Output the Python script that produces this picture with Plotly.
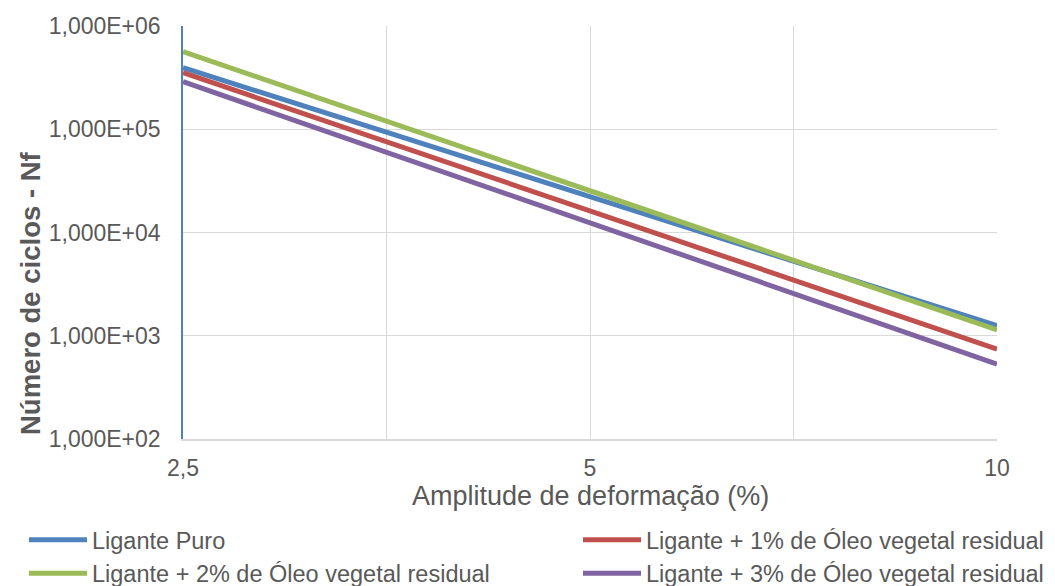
import plotly.graph_objects as go

# Fatigue life (Nf) vs strain amplitude, log-log power-law fits
amplitude = [2.5, 10]
nf_puro = [3.95e5, 1.25e3]
nf_1pct = [3.53e5, 7.43e2]
nf_2pct = [5.64e5, 1.14e3]
nf_3pct = [2.89e5, 5.32e2]

series_names = [
    "Ligante Puro",
    "Ligante + 1% de Óleo vegetal residual",
    "Ligante + 2% de Óleo vegetal residual",
    "Ligante + 3% de Óleo vegetal residual",
]
series_values = [nf_puro, nf_1pct, nf_2pct, nf_3pct]
colors = ["#4F81BD", "#C0504D", "#9BBB59", "#8064A2"]
legend_slots = ["legend", "legend2", "legend", "legend2"]

x_tickvals = [2.5, 3.5355, 5, 7.0711, 10]
x_ticktext = ["2,5", "", "5", "", "10"]
y_tickvals = [1e2, 1e3, 1e4, 1e5, 1e6]
y_ticktext = ["1,000E+02", "1,000E+03", "1,000E+04", "1,000E+05", "1,000E+06"]

x_title = "Amplitude de deformação (%)"
y_title = "Número de ciclos - Nf"

font_family = "Liberation Sans, Arial, sans-serif"
text_color = "#595959"

# plot area in pixels
W, H = 1055, 586
L, R, T, B = 183, 58, 26, 147
plot_w = W - L - R
plot_h = H - T - B

fig = go.Figure()
for name, vals, col, lg in zip(series_names, series_values, colors, legend_slots):
    fig.add_trace(go.Scatter(
        x=amplitude, y=vals, mode="lines", name=name,
        line=dict(color=col, width=5), legend=lg,
    ))

legend_common = dict(
    orientation="v",
    xref="container", yref="container",
    yanchor="top", xanchor="left",
    font=dict(size=23.5, color=text_color),
    bgcolor="rgba(0,0,0,0)",
    tracegroupgap=0, itemwidth=58,
)

fig.update_layout(
    width=W, height=H,
    margin=dict(l=L, r=R, t=T, b=B, autoexpand=False),
    paper_bgcolor="white", plot_bgcolor="white",
    font=dict(family=font_family, color=text_color, size=23),
    showlegend=True,
    legend=dict(x=24 / W, y=1 - 518 / H, **legend_common),
    legend2=dict(x=578 / W, y=1 - 518 / H, **legend_common),
    xaxis=dict(
        type="log", range=[0.39794, 1.0],
        tickvals=x_tickvals, ticktext=x_ticktext,
        showgrid=True, gridcolor="#D9D9D9", gridwidth=1,
        showline=True, linecolor="#D9D9D9", linewidth=1.5,
        zeroline=False, ticks="", ticklabelstandoff=8,
        tickfont=dict(size=23),
    ),
    yaxis=dict(
        type="log", range=[2, 6],
        tickvals=y_tickvals, ticktext=y_ticktext,
        showgrid=True, gridcolor="#D9D9D9", gridwidth=1,
        showline=True, linecolor="#4F81BD", linewidth=1.5,
        zeroline=False, ticks="", ticklabelstandoff=16,
        tickfont=dict(size=23),
    ),
    annotations=[
        dict(
            text=x_title, xref="paper", yref="paper",
            x=0.5, y=(H - B - 496) / plot_h, xanchor="center", yanchor="middle",
            showarrow=False, font=dict(size=27, color=text_color),
        ),
        dict(
            text="<b>" + y_title + "</b>", xref="paper", yref="paper",
            x=(30 - L) / plot_w, y=(H - B - 293) / plot_h,
            xanchor="center", yanchor="middle",
            textangle=-90, showarrow=False, font=dict(size=27.5, color=text_color),
        ),
    ],
)

fig.write_html("out.html")
